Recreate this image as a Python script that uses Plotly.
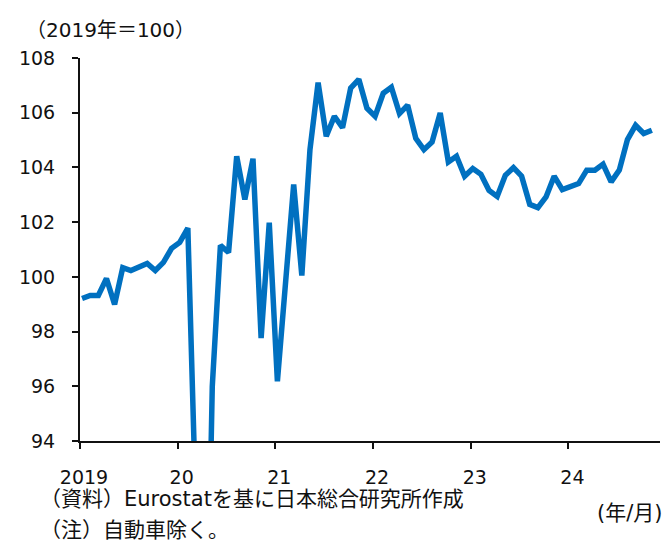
import plotly.graph_objects as go

# Monthly index (2019 = 100), Jan 2019 - Nov 2024
months = [f"{y}-{m:02d}" for y in range(2019, 2025) for m in range(1, 13)][:71]
values = [
    99.21, 99.32, 99.32, 99.94, 98.99, 100.34, 100.23, 100.35, 100.49, 100.23, 100.53, 101.04,
    101.26, 101.78, 91.0, 81.0, 96.0, 101.15, 100.89, 104.41, 102.83, 104.32, 97.76, 101.98,
    96.18, 99.7, 103.38, 100.05, 104.65, 107.1, 105.14, 105.87, 105.45, 106.9, 107.22, 106.16,
    105.87, 106.71, 106.93, 105.97, 106.28, 105.06, 104.65, 104.93, 105.99, 104.2, 104.41, 103.68,
    103.96, 103.75, 103.16, 102.94, 103.71, 103.99, 103.68, 102.65, 102.53, 102.92, 103.68, 103.19,
    103.29, 103.41, 103.90, 103.90, 104.12, 103.47, 103.90, 105.02, 105.54, 105.24, 105.36,
]
year_labels = ["2019", "20", "21", "22", "23", "24"]
y_ticks = [94, 96, 98, 100, 102, 104, 106, 108]

x_pos = list(range(len(months)))
tick_pos = [12 * i - 0.25 for i in range(len(year_labels))]

W, H = 666, 543
L, R, T, B = 80, 6, 58, 102
pw, ph = W - L - R, H - T - B

FONT = "DejaVu Sans, Noto Sans CJK JP, sans-serif"

fig = go.Figure()
fig.add_trace(go.Scatter(
    x=x_pos, y=values, mode="lines",
    line=dict(color="#0070C0", width=5.5),
    hoverinfo="skip", showlegend=False,
))

fig.update_layout(
    width=W, height=H,
    margin=dict(l=L, r=R, t=T, b=B),
    paper_bgcolor="white", plot_bgcolor="white",
    font=dict(family=FONT, size=19, color="#111111"),
    xaxis=dict(
        range=[-0.25, 71], tickmode="array", tickvals=tick_pos, ticktext=year_labels,
        showgrid=False, zeroline=False, showline=True, linecolor="#111111", linewidth=2,
        ticks="outside", ticklen=6, tickwidth=2, tickcolor="#111111",
        ticklabelshift=4, ticklabelstandoff=12,
        tickfont=dict(family=FONT, size=19, color="#111111"),
    ),
    yaxis=dict(
        range=[94, 108], tickmode="array", tickvals=y_ticks,
        showgrid=False, zeroline=False, showline=True, linecolor="#111111", linewidth=2,
        ticks="outside", ticklen=6, tickwidth=2, tickcolor="#111111",
        ticklabelstandoff=13,
        tickfont=dict(family=FONT, size=19, color="#111111"),
    ),
)


def ann(text, px, py, xanchor="left", size=18, family=FONT):
    fig.add_annotation(
        text=text, xref="paper", yref="paper",
        x=(px - L) / pw, y=(H - B - py) / ph,
        xanchor=xanchor, yanchor="middle", showarrow=False,
        font=dict(family=family, size=size, color="#111111"),
    )


ann("（2019年＝100）", 24, 30, size=20)
ann("（資料）Eurostatを基に日本総合研究所作成", 38, 499, size=21)
ann("（注）自動車除く。", 38, 530, size=21)
ann("(年/月)", 664, 513, xanchor="right", size=21)

fig.write_html("out.html")
